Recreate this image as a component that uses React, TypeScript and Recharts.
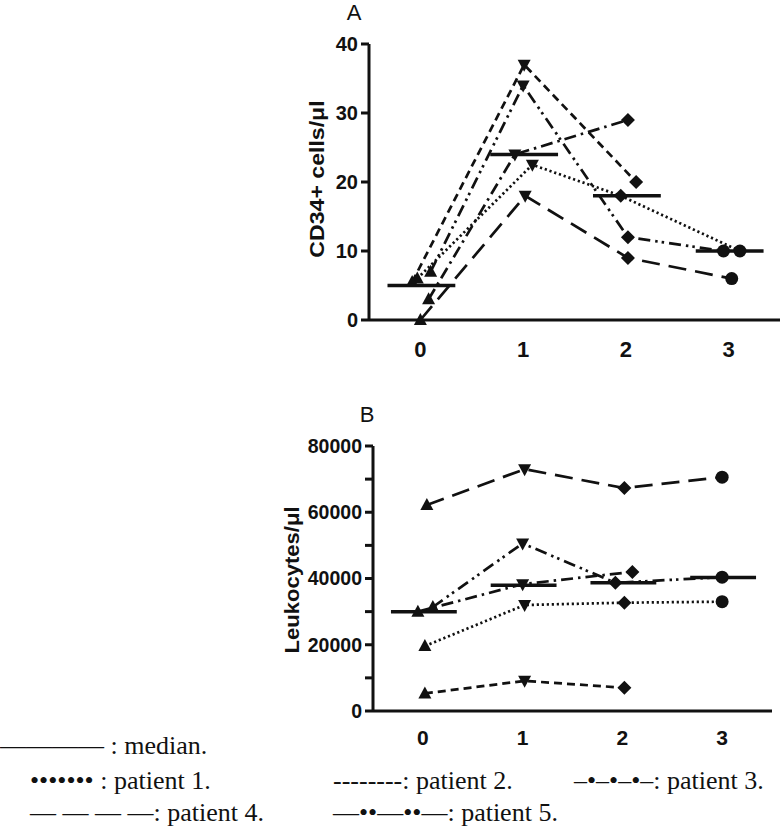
import React from "react";
import { LineChart, Line, XAxis, YAxis, ReferenceLine } from "recharts";

// time points (x axis)
const TIMES = [0, 1, 2, 3];

// Panel A: CD34+ cells/µl, one array per patient (values at time 0..3)
const cd34P1 = [6, 22.5, 18, 10];
const cd34P2 = [5.5, 37, 20];
const cd34P3 = [3, 24, 29];
const cd34P4 = [0, 18, 9, 6];
const cd34P5 = [7, 34, 12, 10];
const cd34Median = [5, 24, 18, 10];

// where each point sits on the time axis (points are nudged sideways in the figure)
const cd34XP1 = [-0.03, 1.09, 1.95, 3.11];
const cd34XP2 = [-0.08, 1.01, 2.1];
const cd34XP3 = [0.08, 0.92, 2.02];
const cd34XP4 = [0, 1.02, 2.02, 3.03];
const cd34XP5 = [0.1, 1.0, 2.02, 2.95];

// Panel B: leukocytes/µl
const leukoP1 = [19600, 32000, 32700, 33000];
const leukoP2 = [5300, 9100, 7000];
const leukoP3 = [30000, 38300, 42000];
const leukoP4 = [62200, 73000, 67300, 70600];
const leukoP5 = [31400, 50600, 38700, 40400];
const leukoMedian = [30000, 38000, 38700, 40300];

const leukoXP1 = [0.02, 1.02, 2.02, 3.0];
const leukoXP2 = [0.02, 1.02, 2.02];
const leukoXP3 = [-0.05, 1.0, 2.1];
const leukoXP4 = [0.04, 1.02, 2.02, 3.0];
const leukoXP5 = [0.1, 1.0, 1.93, 3.0];

const cd34Ticks = [0, 10, 20, 30, 40];
const leukoTicks = [0, 10000, 20000, 30000, 40000, 50000, 60000, 70000, 80000];

const SANS = "'Liberation Sans', Arial, sans-serif";
const SERIF = "'Liberation Serif', 'Times New Roman', serif";

const DASH = {
  p1: "2.2 2.8",
  p2: "8 5",
  p3: "12 5 2.5 5",
  p4: "18 9",
  p5: "12 5 2.5 4 2.5 5",
};

function rows(xs: number[], ys: number[]) {
  return ys.map((y, i) => ({ x: xs[i], y, step: i }));
}

function Marker(props: any) {
  const { cx, cy, payload } = props;
  if (cx == null || cy == null) return null;
  const s = payload.step;
  if (s === 0)
    return <polygon points={`${cx},${cy - 7} ${cx - 6.5},${cy + 5} ${cx + 6.5},${cy + 5}`} fill="#111" />;
  if (s === 1)
    return <polygon points={`${cx},${cy + 7} ${cx - 6.5},${cy - 5} ${cx + 6.5},${cy - 5}`} fill="#111" />;
  if (s === 2)
    return <polygon points={`${cx},${cy - 7} ${cx + 7},${cy} ${cx},${cy + 7} ${cx - 7},${cy}`} fill="#111" />;
  return <circle cx={cx} cy={cy} r={6.5} fill="#111" />;
}

function PatientLine({ data, dash }: { data: any[]; dash: string }) {
  return (
    <Line
      data={data}
      dataKey="y"
      stroke="#111"
      strokeWidth={2.7}
      strokeDasharray={dash}
      dot={<Marker />}
      activeDot={false}
      isAnimationActive={false}
      type="linear"
    />
  );
}

function medianSegments(values: number[]) {
  return values.map((m, i) => (
    <ReferenceLine
      key={i}
      segment={[
        { x: TIMES[i] - 0.32, y: m },
        { x: TIMES[i] + 0.34, y: m },
      ]}
      stroke="#111"
      strokeWidth={3.5}
    />
  ));
}

const axisLine = { stroke: "#111", strokeWidth: 3 };

function AxisTitle({ text, x, y, size, stretch }: { text: string; x: number; y: number; size: number; stretch: number }) {
  return (
    <div
      style={{
        position: "absolute",
        left: x,
        top: y,
        transform: `translate(-50%, -50%) rotate(-90deg) scaleX(${stretch})`,
        fontFamily: SANS,
        fontWeight: 700,
        fontSize: size,
        whiteSpace: "nowrap",
        color: "#111",
      }}
    >
      {text}
    </div>
  );
}

function PanelLetter({ text, x, y }: { text: string; x: number; y: number }) {
  return (
    <div
      style={{
        position: "absolute",
        left: x,
        top: y,
        transform: "translate(-50%, -50%)",
        fontFamily: SANS,
        fontSize: 22,
        color: "#111",
      }}
    >
      {text}
    </div>
  );
}

function LegendText({ text, x, y }: { text: string; x: number; y: number }) {
  return (
    <div
      style={{
        position: "absolute",
        left: x,
        top: y,
        transform: "translateY(-50%)",
        fontFamily: SERIF,
        fontSize: 26,
        whiteSpace: "nowrap",
        color: "#111",
      }}
    >
      {text}
    </div>
  );
}

export default function App() {
  return (
    <div style={{ position: "absolute", left: 0, top: 0, width: 783, height: 832, background: "#fff" }}>
      <PanelLetter text="A" x={354} y={13} />
      <div style={{ position: "absolute", left: 0, top: 0 }}>
        <LineChart width={783} height={370} margin={{ top: 44, right: 3, left: 0, bottom: 0 }}>
          <XAxis
            type="number"
            dataKey="x"
            domain={[-0.5, 3.5]}
            ticks={TIMES}
            allowDataOverflow
            tickLine={false}
            tickSize={0}
            tickMargin={21}
            height={50}
            axisLine={axisLine}
            tick={{ fontSize: 22, fontFamily: SANS, fontWeight: 700, fill: "#111" }}
          />
          <YAxis
            type="number"
            domain={[0, 40]}
            ticks={cd34Ticks}
            width={369}
            tickSize={8}
            tickMargin={3}
            tickLine={{ stroke: "#111", strokeWidth: 3 }}
            axisLine={axisLine}
            tick={{ fontSize: 20, fontFamily: SANS, fontWeight: 700, fill: "#111" }}
          />
          <PatientLine data={rows(cd34XP1, cd34P1)} dash={DASH.p1} />
          <PatientLine data={rows(cd34XP2, cd34P2)} dash={DASH.p2} />
          <PatientLine data={rows(cd34XP3, cd34P3)} dash={DASH.p3} />
          <PatientLine data={rows(cd34XP4, cd34P4)} dash={DASH.p4} />
          <PatientLine data={rows(cd34XP5, cd34P5)} dash={DASH.p5} />
          {medianSegments(cd34Median)}
        </LineChart>
      </div>
      <AxisTitle text="CD34+ cells/μl" x={317} y={179} size={21} stretch={1.1} />

      <PanelLetter text="B" x={367} y={415} />
      <div style={{ position: "absolute", left: 0, top: 390 }}>
        <LineChart width={783} height={370} margin={{ top: 56, right: 11, left: 0, bottom: 0 }}>
          <XAxis
            type="number"
            dataKey="x"
            domain={[-0.5, 3.5]}
            ticks={TIMES}
            allowDataOverflow
            tickLine={false}
            tickSize={0}
            tickMargin={19}
            height={49}
            axisLine={axisLine}
            tick={{ fontSize: 21, fontFamily: SANS, fontWeight: 700, fill: "#111" }}
          />
          <YAxis
            type="number"
            domain={[0, 80000]}
            ticks={leukoTicks}
            width={373}
            tickSize={8}
            tickMargin={3}
            tickLine={{ stroke: "#111", strokeWidth: 3 }}
            axisLine={axisLine}
            tickFormatter={(v: number) => (v % 20000 === 0 ? String(v) : "")}
            tick={{ fontSize: 19.5, fontFamily: SANS, fontWeight: 700, fill: "#111" }}
          />
          <PatientLine data={rows(leukoXP1, leukoP1)} dash={DASH.p1} />
          <PatientLine data={rows(leukoXP2, leukoP2)} dash={DASH.p2} />
          <PatientLine data={rows(leukoXP3, leukoP3)} dash={DASH.p3} />
          <PatientLine data={rows(leukoXP4, leukoP4)} dash={DASH.p4} />
          <PatientLine data={rows(leukoXP5, leukoP5)} dash={DASH.p5} />
          {medianSegments(leukoMedian)}
        </LineChart>
      </div>
      <AxisTitle text="Leukocytes/μl" x={292} y={580} size={21} stretch={1.05} />

      <LegendText text="———— : median." x={0} y={746} />
      <LegendText text="••••••• : patient 1." x={30} y={781} />
      <LegendText text="--------: patient 2." x={333} y={781} />
      <LegendText text="–•–•–•–: patient 3." x={574} y={781} />
      <LegendText text="— — — —: patient 4." x={30} y={813} />
      <LegendText text="—••—••—: patient 5." x={333} y={813} />
    </div>
  );
}
